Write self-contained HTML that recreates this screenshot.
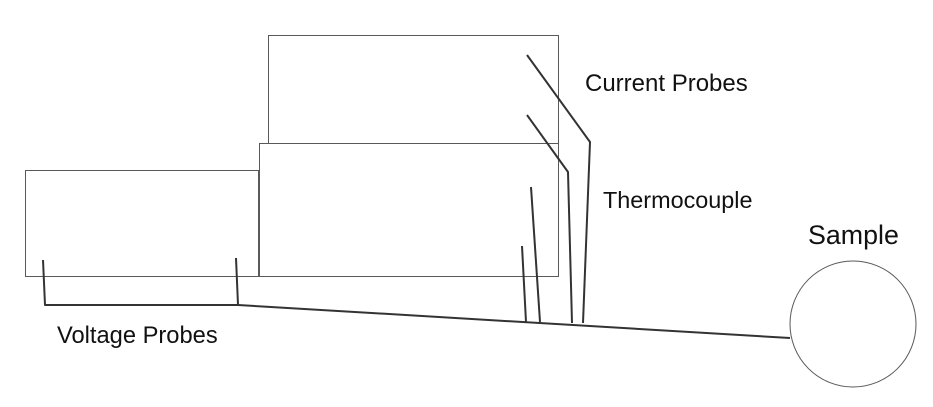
<!DOCTYPE html>
<html><head><meta charset="utf-8"><style>
html,body{margin:0;padding:0;background:#fff;}
svg{display:block;font-family:"Liberation Sans",sans-serif;}
</style></head><body>
<svg width="933" height="407" viewBox="0 0 933 407">
<g fill="none" stroke="#595959" stroke-width="1">
<rect x="25.5" y="170.5" width="233" height="106"/>
<rect x="259.5" y="143.5" width="299" height="133"/>
<rect x="268.5" y="35.5" width="290" height="108"/>
<circle cx="853" cy="324" r="63"/>
</g>
<g fill="none" stroke="#333" stroke-width="2" stroke-linejoin="round">
<polyline points="43,260 45,305 238,305"/>
<line x1="236" y1="258" x2="238" y2="305"/>
<line x1="238" y1="305" x2="790" y2="338"/>
<polyline points="527,55 590,142 583,323"/>
<polyline points="527,115 568,172 572,323"/>
<line x1="531" y1="187" x2="540" y2="322"/>
<line x1="522" y1="246" x2="526" y2="322"/>
</g>
<g fill="#111">
<text x="585" y="91" font-size="24">Current Probes</text>
<text x="603" y="208" font-size="23.4">Thermocouple</text>
<text x="808" y="244" font-size="26.8">Sample</text>
<text x="57" y="343" font-size="23.7">Voltage Probes</text>
</g>
</svg>
</body></html>
